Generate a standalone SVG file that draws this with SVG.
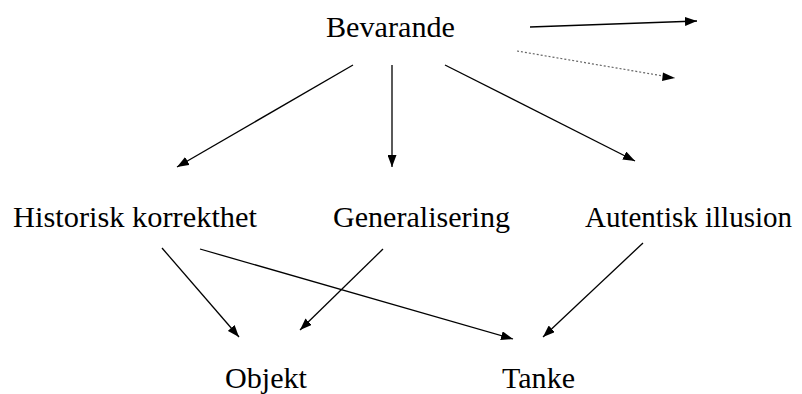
<svg xmlns="http://www.w3.org/2000/svg" width="802" height="394" viewBox="0 0 802 394">
<style>
text{font-family:"Liberation Serif","Times New Roman",serif;font-size:29px;fill:#000}
.c line{stroke:#000;stroke-width:1.3;fill:none}
.c line.dot{stroke:#666;stroke-dasharray:2 2;stroke-width:1.2}
</style>
<defs>
<marker id="a" markerUnits="userSpaceOnUse" markerWidth="13" markerHeight="9" refX="12" refY="4.5" orient="auto">
<path d="M0,0 L12,4.5 L0,9 z" fill="#000"/>
</marker>
</defs>
<rect width="802" height="394" fill="#fff"/>
<g id="n-bevarande"><text x="326" y="37" textLength="129" lengthAdjust="spacingAndGlyphs">Bevarande</text></g>
<g id="n-historisk"><text x="13" y="227" textLength="244" lengthAdjust="spacingAndGlyphs">Historisk korrekthet</text></g>
<g id="n-generalisering"><text x="333" y="227" textLength="177" lengthAdjust="spacingAndGlyphs">Generalisering</text></g>
<g id="n-autentisk"><text x="585" y="227" textLength="207" lengthAdjust="spacingAndGlyphs">Autentisk illusion</text></g>
<g id="n-objekt"><text x="225" y="388" textLength="82" lengthAdjust="spacingAndGlyphs">Objekt</text></g>
<g id="n-tanke"><text x="502" y="388" textLength="73" lengthAdjust="spacingAndGlyphs">Tanke</text></g>
<g class="c" id="connectors">
<line x1="530" y1="27" x2="697" y2="21" marker-end="url(#a)"/>
<line class="dot" x1="517" y1="51" x2="675" y2="78"/>
<path d="M663,72.5 L675,78 L662,81 z" fill="#000"/>
<line x1="353" y1="65" x2="177" y2="167" marker-end="url(#a)"/>
<line x1="392" y1="65" x2="392" y2="167" marker-end="url(#a)"/>
<line x1="445" y1="65" x2="635" y2="161" marker-end="url(#a)"/>
<line x1="162" y1="248" x2="239" y2="337" marker-end="url(#a)"/>
<line x1="200" y1="249" x2="513" y2="339" marker-end="url(#a)"/>
<line x1="383" y1="249" x2="300" y2="330" marker-end="url(#a)"/>
<line x1="643" y1="243" x2="543" y2="337" marker-end="url(#a)"/>
</g>
</svg>
